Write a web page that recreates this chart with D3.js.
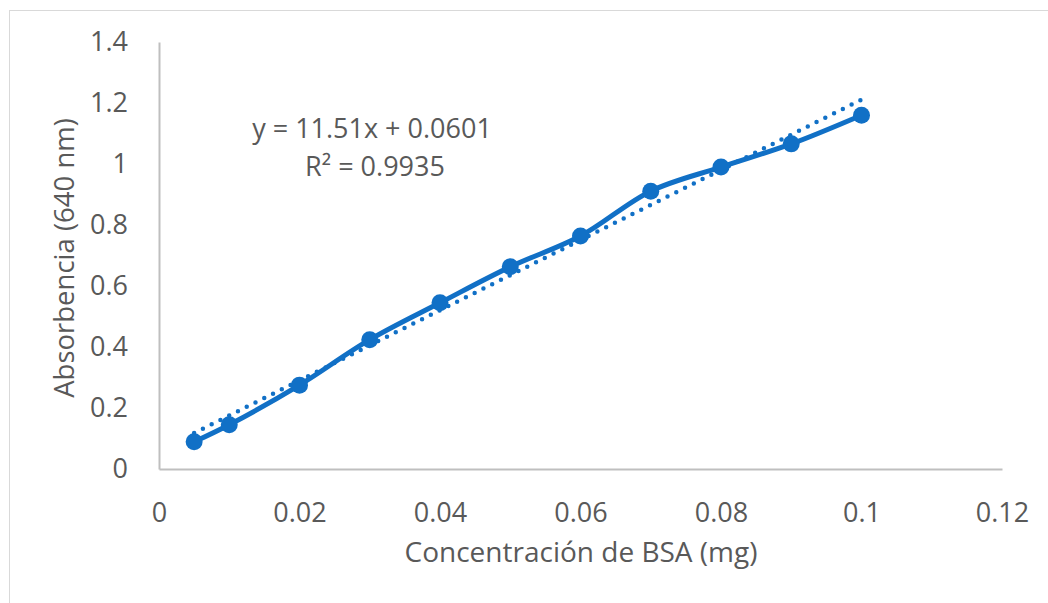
<!DOCTYPE html>
<html>
<head>
<meta charset="utf-8">
<script src="https://cdn.jsdelivr.net/npm/d3@7"></script>
<style>
  body { margin: 0; background: #fff; }
  text { font-family: "Open Sans", sans-serif; fill: #595959; }
</style>
</head>
<body>
<svg id="canvas"></svg>
<script>
// data
let concentration = [0.005, 0.01, 0.02, 0.03, 0.04, 0.05, 0.06, 0.07, 0.08, 0.09, 0.1]
let absorbance = [0.089, 0.145, 0.275, 0.424, 0.545, 0.663, 0.764, 0.911, 0.99, 1.066, 1.16]
let xTicks = [0, 0.02, 0.04, 0.06, 0.08, 0.1, 0.12]
let yTicks = [0, 0.2, 0.4, 0.6, 0.8, 1, 1.2, 1.4]
let slope = 11.51
let intercept = 0.0601
let equationLines = ['y = 11.51x + 0.0601', 'R² = 0.9935']

let width = 1048
let height = 603
let blue = '#1170c6'

let svg = d3.select('#canvas').attr('width', width).attr('height', height)

// chart border
svg.append('rect')
   .attr('x', 9.5).attr('y', 10.5)
   .attr('width', width).attr('height', height)
   .attr('fill', 'none').attr('stroke', '#d9d9d9')

let xScale = d3.scaleLinear().domain([0, 0.12]).range([159, 1002])
let yScale = d3.scaleLinear().domain([0, 1.4]).range([469, 42])

let xAxis = d3.axisBottom(xScale).tickValues(xTicks).tickSize(0).tickPadding(43)
              .tickFormat(d => d3.format('~g')(d))
let yAxis = d3.axisLeft(yScale).tickValues(yTicks).tickSize(0).tickPadding(31)
              .tickFormat(d => d3.format('~g')(d))

let gx = svg.append('g').attr('transform', 'translate(0,' + yScale(0) + ')').call(xAxis)
let gy = svg.append('g').attr('transform', 'translate(' + xScale(0) + ',0)').call(yAxis)
gx.select('.domain').attr('stroke', '#bfbfbf').attr('stroke-width', 2)
gy.select('.domain').attr('stroke', '#bfbfbf').attr('stroke-width', 2)
svg.selectAll('.tick text').attr('font-size', 27).attr('fill', '#595959')
   .style('font-family', '"Open Sans", sans-serif')
gx.selectAll('.tick text').attr('dy', '0.36em')

// trendline
let trendX = [concentration[0], concentration[concentration.length - 1]]
svg.append('line')
   .attr('x1', xScale(trendX[0])).attr('y1', yScale(slope * trendX[0] + intercept))
   .attr('x2', xScale(trendX[1])).attr('y2', yScale(slope * trendX[1] + intercept))
   .attr('stroke', blue).attr('stroke-width', 4.5)
   .attr('stroke-linecap', 'round').attr('stroke-dasharray', '0 9.8')

let points = concentration.map((c, i) => [c, absorbance[i]])

let line = d3.line()
  .x(d => xScale(d[0]))
  .y(d => yScale(d[1]))
  .curve(d3.curveCatmullRom.alpha(0.5))

svg.append('path')
   .datum(points)
   .attr('d', line)
   .attr('fill', 'none')
   .attr('stroke', blue)
   .attr('stroke-width', 5)
   .attr('stroke-linejoin', 'round')

svg.selectAll('circle.pt')
   .data(points)
   .enter()
   .append('circle')
   .attr('class', 'pt')
   .attr('cx', d => xScale(d[0]))
   .attr('cy', d => yScale(d[1]))
   .attr('r', 8.5)
   .attr('fill', blue)

// equation label
svg.append('text').attr('x', 372).attr('y', 138).attr('text-anchor', 'middle')
   .attr('font-size', 27).text(equationLines[0])
svg.append('text').attr('x', 375).attr('y', 176).attr('text-anchor', 'middle')
   .attr('font-size', 27).text(equationLines[1])

// axis titles
svg.append('text').attr('x', 581).attr('y', 562).attr('text-anchor', 'middle')
   .attr('font-size', 28).text('Concentración de BSA (mg)')
svg.append('text')
   .attr('transform', 'translate(74,258) rotate(-90)')
   .attr('text-anchor', 'middle')
   .attr('font-size', 27.5).text('Absorbencia (640 nm)')
</script>
</body>
</html>
